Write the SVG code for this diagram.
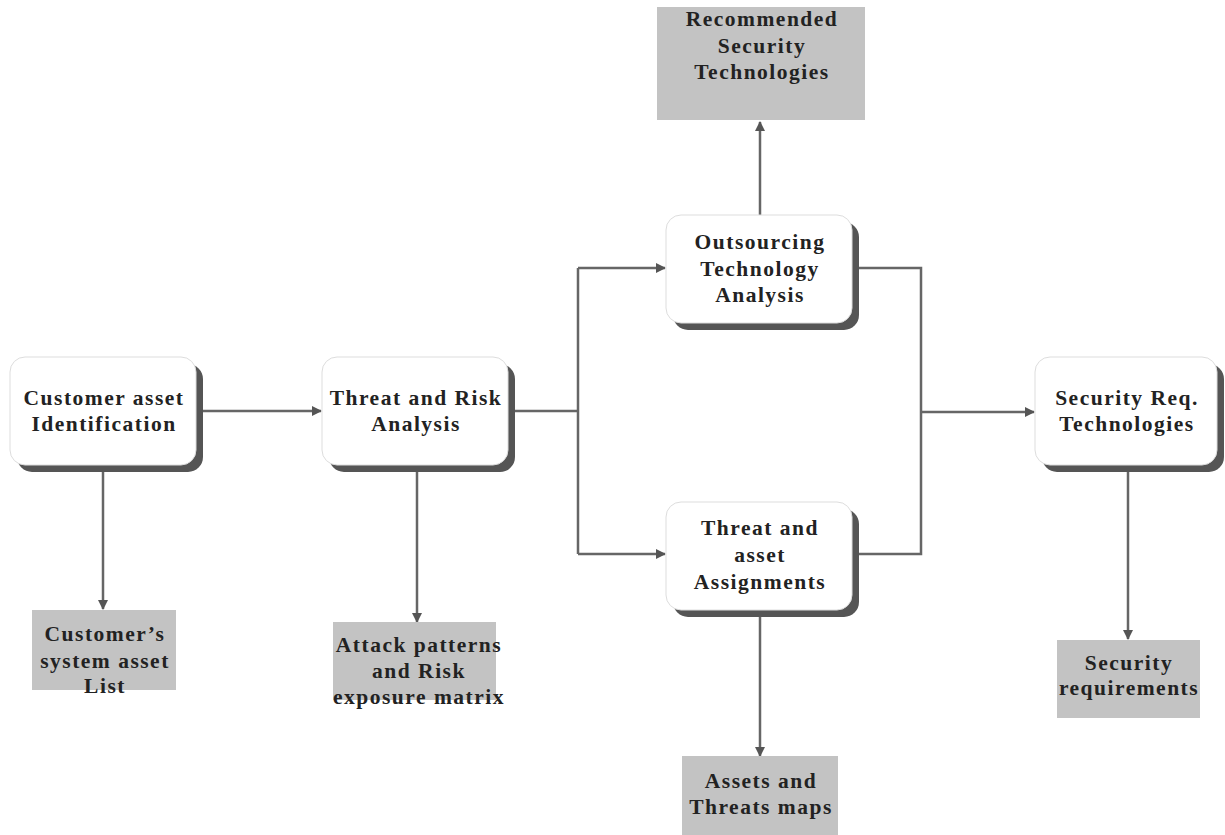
<svg xmlns="http://www.w3.org/2000/svg" width="1225" height="835" viewBox="0 0 1225 835">
<defs>
<style>
.t{font-family:"Liberation Serif","Times New Roman",serif;font-weight:bold;font-size:21.5px;fill:#222;text-anchor:middle;letter-spacing:1.5px}
.box{fill:#fff;stroke:#ddd;stroke-width:1}
.sh{fill:#555}
.g{fill:#c3c3c3}
.c{fill:none;stroke:#666;stroke-width:2.5}
</style>
<marker id="a" markerWidth="10" markerHeight="10" refX="9" refY="5" orient="auto" markerUnits="userSpaceOnUse">
<path d="M0,0 L10,5 L0,10 z" fill="#555"/>
</marker>
</defs>
<rect width="1225" height="835" fill="#fff"/>
<g id="connectors">
<line class="c" x1="202" y1="411" x2="321" y2="411" marker-end="url(#a)"/>
<line class="c" x1="508" y1="411" x2="578" y2="411"/>
<line class="c" x1="578" y1="268" x2="578" y2="554"/>
<line class="c" x1="578" y1="268" x2="665" y2="268" marker-end="url(#a)"/>
<line class="c" x1="578" y1="554" x2="665" y2="554" marker-end="url(#a)"/>
<polyline class="c" points="852,268 921,268 921,554 852,554"/>
<line class="c" x1="921" y1="412" x2="1034" y2="412" marker-end="url(#a)"/>
<line class="c" x1="760" y1="215" x2="760" y2="122" marker-end="url(#a)"/>
<line class="c" x1="103" y1="472" x2="103" y2="609" marker-end="url(#a)"/>
<line class="c" x1="417" y1="472" x2="417" y2="622" marker-end="url(#a)"/>
<line class="c" x1="760" y1="617" x2="760" y2="756" marker-end="url(#a)"/>
<line class="c" x1="1128" y1="472" x2="1128" y2="639" marker-end="url(#a)"/>
</g>
<g id="n1">
<rect class="sh" x="17" y="364" width="186" height="108" rx="15"/>
<rect class="box" x="10" y="357" width="186" height="108" rx="15"/>
<text class="t" x="104" y="405">Customer asset</text>
<text class="t" x="104" y="431">Identification</text>
</g>
<g id="n2">
<rect class="sh" x="329" y="364" width="186" height="108" rx="15"/>
<rect class="box" x="322" y="357" width="186" height="108" rx="15"/>
<text class="t" x="416" y="405">Threat and Risk</text>
<text class="t" x="416" y="431">Analysis</text>
</g>
<g id="n3">
<rect class="sh" x="673" y="222" width="186" height="108" rx="15"/>
<rect class="box" x="666" y="215" width="186" height="108" rx="15"/>
<text class="t" x="760" y="249">Outsourcing</text>
<text class="t" x="760" y="276">Technology</text>
<text class="t" x="760" y="302">Analysis</text>
</g>
<g id="n4">
<rect class="sh" x="673" y="509" width="186" height="108" rx="15"/>
<rect class="box" x="666" y="502" width="186" height="108" rx="15"/>
<text class="t" x="760" y="535">Threat and</text>
<text class="t" x="760" y="562">asset</text>
<text class="t" x="760" y="589">Assignments</text>
</g>
<g id="n5">
<rect class="sh" x="1042" y="364" width="182" height="108" rx="15"/>
<rect class="box" x="1035" y="357" width="182" height="108" rx="15"/>
<text class="t" x="1127" y="405">Security Req.</text>
<text class="t" x="1127" y="431">Technologies</text>
</g>
<g id="o1">
<rect class="g" x="657" y="7" width="208" height="113"/>
<text class="t" x="762" y="26">Recommended</text>
<text class="t" x="762" y="53">Security</text>
<text class="t" x="762" y="79">Technologies</text>
</g>
<g id="o2">
<rect class="g" x="32" y="610" width="144" height="80"/>
<text class="t" x="105" y="641">Customer’s</text>
<text class="t" x="105" y="668">system asset</text>
<text class="t" x="105" y="693">List</text>
</g>
<g id="o3">
<rect class="g" x="333" y="622" width="163" height="78"/>
<text class="t" x="419" y="652">Attack patterns</text>
<text class="t" x="419" y="678">and Risk</text>
<text class="t" x="419" y="704">exposure matrix</text>
</g>
<g id="o4">
<rect class="g" x="682" y="756" width="156" height="79"/>
<text class="t" x="761" y="788">Assets and</text>
<text class="t" x="761" y="814">Threats maps</text>
</g>
<g id="o5">
<rect class="g" x="1057" y="640" width="143" height="78"/>
<text class="t" x="1129" y="670">Security</text>
<text class="t" x="1129" y="695">requirements</text>
</g>
</svg>
